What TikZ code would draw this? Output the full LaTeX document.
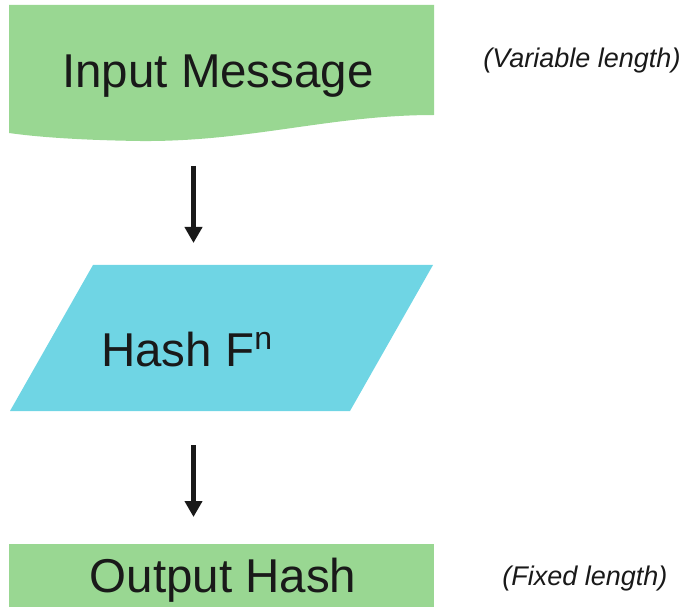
\documentclass[tikz,border=0pt]{standalone}
\usepackage{fontspec}
\setmainfont{Liberation Sans}
\usetikzlibrary{arrows.meta}

\definecolor{msggreen}{RGB}{153,215,146}
\definecolor{hashcyan}{RGB}{111,213,228}

\tikzset{
  bigtext/.style = {font=\fontsize{47.5}{50}\selectfont, text=black!90, inner sep=0pt},
  sidenote/.style = {font=\fontsize{27}{30}\selectfont\itshape, text=black!90, inner sep=0pt},
  flow/.style = {line width=5pt, black!90, -{Triangle[length=16pt,width=17pt]}}
}

\begin{document}
\begin{tikzpicture}[x=1pt, y=-1pt]
\useasboundingbox (0,0) rectangle (689,607);

% input message (wavy bottom)
\fill[msggreen] (9,5) -- (434,5) -- (434,115)
  .. controls (330,115) and (250,142) .. (140,141)
  .. controls (70,140) and (30,136) .. (9,133) -- cycle;
\node[bigtext, anchor=base] (input) at (218,88) {Input Message};
\node[sidenote, anchor=base] (varlen) at (582,68) {(Variable length)};

% hash function
\fill[hashcyan] (93,265) -- (433,265) -- (350,411) -- (10,411) -- cycle;
\node[bigtext, anchor=base west] (hash) at (101,366)
  {Hash F\raisebox{16.4pt}{\fontsize{32}{32}\selectfont n}};

% output hash
\fill[msggreen] (9,544) rectangle (434,607);
\node[bigtext, anchor=base] (output) at (223,592) {Output Hash};
\node[sidenote, anchor=base] (fixlen) at (585,585) {(Fixed length)};

% arrows
\coordinate (a1) at (193.5,166);
\coordinate (b1) at (193.5,243);
\coordinate (a2) at (193.5,445);
\coordinate (b2) at (193.5,517);
\draw[flow] (a1) -- (b1);
\draw[flow] (a2) -- (b2);

\end{tikzpicture}
\end{document}
